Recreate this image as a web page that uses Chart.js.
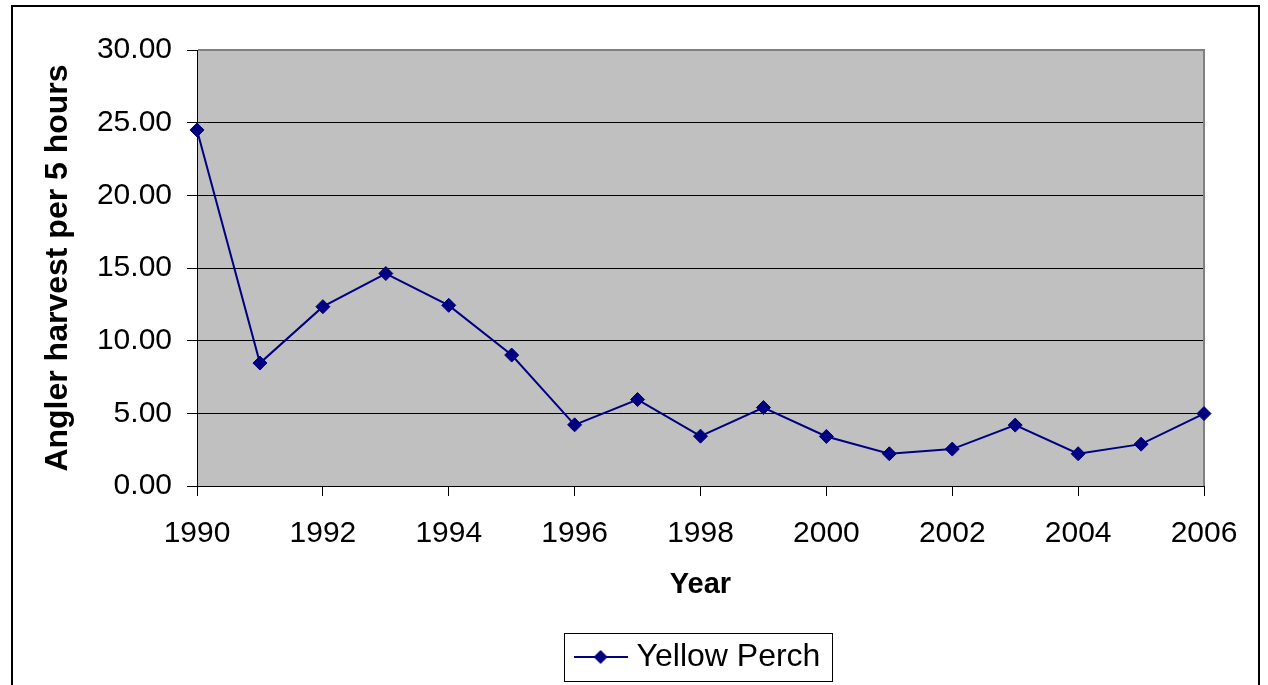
<!DOCTYPE html>
<html>
<head>
<meta charset="utf-8">
<script src="https://cdn.jsdelivr.net/npm/chart.js@4.4.1/dist/chart.umd.min.js"></script>
<style>
  html, body { margin: 0; padding: 0; background: #ffffff; }
  #wrap { position: relative; width: 1268px; height: 685px; }
</style>
</head>
<body>
<div id="wrap"><canvas id="perchChart"></canvas></div>
<script>
// Data
const years = [1990, 1991, 1992, 1993, 1994, 1995, 1996, 1997, 1998, 1999, 2000, 2001, 2002, 2003, 2004, 2005, 2006];
const perchHarvest = [24.5, 8.46, 12.34, 14.62, 12.43, 9.01, 4.21, 5.95, 3.43, 5.4, 3.41, 2.22, 2.54, 4.19, 2.22, 2.88, 4.98];
const yTicks = [0, 5, 10, 15, 20, 25, 30];
const seriesName = 'Yellow Perch';

Chart.defaults.font.family = '"Liberation Sans", Arial, sans-serif';
Chart.defaults.color = '#000000';

// legend marker: short line with a diamond in the middle
function legendMarker() {
  const c = document.createElement('canvas');
  c.width = 54;
  c.height = 16;
  const g = c.getContext('2d');
  g.strokeStyle = '#000080';
  g.lineWidth = 2;
  g.beginPath();
  g.moveTo(0, 8);
  g.lineTo(54, 8);
  g.stroke();
  g.fillStyle = '#000080';
  g.beginPath();
  g.moveTo(27, 1);
  g.lineTo(34, 8);
  g.lineTo(27, 15);
  g.lineTo(20, 8);
  g.closePath();
  g.fill();
  return c;
}
const marker = legendMarker();

// grey plot background, grey top/right border, outer frame, legend box
const excelLook = {
  id: 'excelLook',
  beforeDraw(chart) {
    const {ctx, chartArea: a} = chart;
    ctx.save();
    ctx.fillStyle = '#ffffff';
    ctx.fillRect(0, 0, chart.width, chart.height);
    ctx.fillStyle = '#c0c0c0';
    ctx.fillRect(a.left, a.top, a.right - a.left, a.bottom - a.top);
    ctx.restore();
  },
  beforeDatasetsDraw(chart) {
    const {ctx, chartArea: a} = chart;
    ctx.save();
    ctx.strokeStyle = '#808080';
    ctx.lineWidth = 2;
    ctx.beginPath();
    ctx.moveTo(a.left + 1, a.top);
    ctx.lineTo(a.right, a.top);
    ctx.lineTo(a.right, a.bottom);
    ctx.stroke();
    ctx.restore();
  },
  afterDraw(chart) {
    const ctx = chart.ctx;
    ctx.save();
    ctx.strokeStyle = '#000000';
    ctx.lineWidth = 2;
    ctx.strokeRect(12, 6, 1247, 700);
    const hb = chart.legend.legendHitBoxes[0];
    if (hb) {
      const cy = hb.top + hb.height / 2;
      ctx.lineWidth = 1;
      ctx.strokeRect(Math.round(hb.left - 17) + 0.5, Math.round(cy - 24) + 0.5, Math.round(hb.width + 28), 48);
    }
    ctx.restore();
  }
};

const ctx = document.getElementById('perchChart');
new Chart(ctx, {
  type: 'line',
  data: {
    datasets: [{
      label: seriesName,
      data: years.map((yr, i) => ({x: yr, y: perchHarvest[i]})),
      borderColor: '#000080',
      backgroundColor: '#000080',
      borderWidth: 2,
      pointStyle: 'rectRot',
      pointRadius: 7,
      pointHoverRadius: 7,
      pointBackgroundColor: '#000080',
      pointBorderColor: '#000080',
      pointBorderWidth: 1,
      tension: 0,
      clip: false
    }]
  },
  options: {
    responsive: true,
    maintainAspectRatio: false,
    animation: false,
    events: [],
    layout: {
      padding: {top: 50, right: 64, left: 0, bottom: 2}
    },
    plugins: {
      tooltip: {enabled: false},
      legend: {
        display: true,
        position: 'bottom',
        fullSize: false,
        labels: {
          usePointStyle: true,
          pointStyleWidth: 40,
          padding: 10,
          font: {size: 32},
          color: '#000000',
          generateLabels: function(chart) {
            return [{
              text: seriesName,
              pointStyle: marker,
              fillStyle: '#000080',
              strokeStyle: '#000080',
              lineWidth: 0,
              fontColor: '#000000',
              hidden: false,
              datasetIndex: 0
            }];
          }
        }
      }
    },
    scales: {
      x: {
        type: 'linear',
        min: years[0],
        max: years[years.length - 1],
        afterFit: function(scale) { scale.height = 145; },
        ticks: {
          stepSize: 2,
          padding: 20,
          maxRotation: 0,
          font: {size: 30},
          color: '#000000',
          callback: function(value) { return String(value); }
        },
        grid: {
          drawOnChartArea: false,
          drawTicks: true,
          tickLength: 10,
          color: '#000000'
        },
        border: {color: '#000000', width: 1},
        title: {
          display: true,
          text: 'Year',
          font: {size: 29, weight: 'bold'},
          color: '#000000',
          padding: {top: 0, bottom: 29}
        }
      },
      y: {
        min: yTicks[0],
        max: yTicks[yTicks.length - 1],
        afterFit: function(scale) { scale.width = 197; },
        afterBuildTicks: function(scale) { scale.ticks = yTicks.map(v => ({value: v})); },
        ticks: {
          padding: 15,
          font: {size: 30},
          color: '#000000',
          callback: function(value) { return Number(value).toFixed(2); }
        },
        grid: {
          color: '#000000',
          lineWidth: 1,
          tickLength: 10
        },
        border: {color: '#000000', width: 1},
        title: {
          display: true,
          text: 'Angler harvest per 5 hours',
          font: {size: 32, weight: 'bold'},
          color: '#000000',
          padding: {top: 39, bottom: 0}
        }
      }
    }
  },
  plugins: [excelLook]
});
</script>
</body>
</html>
